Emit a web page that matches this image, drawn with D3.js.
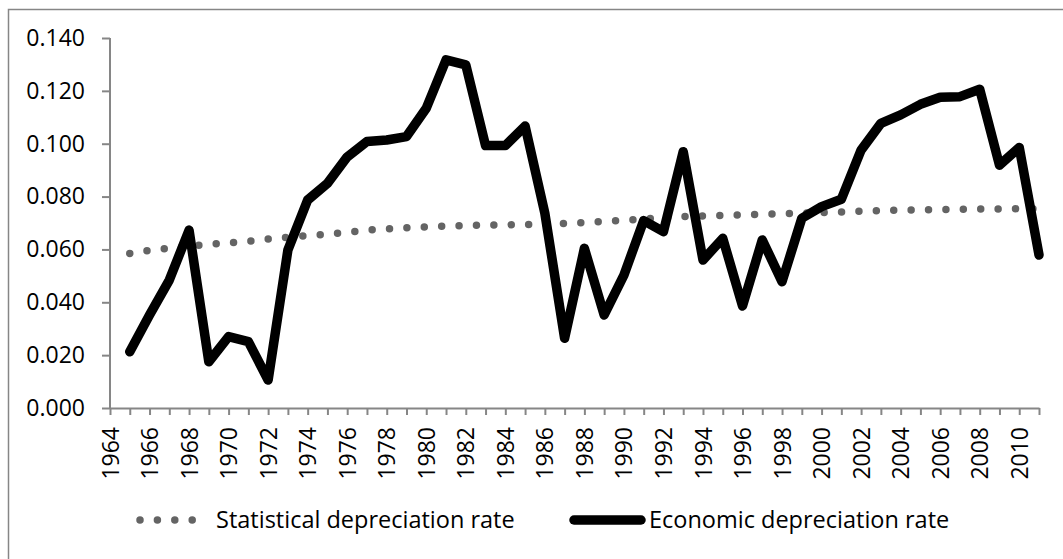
<!DOCTYPE html>
<html>
<head>
<meta charset="utf-8">
<script src="https://cdn.jsdelivr.net/npm/d3@7/dist/d3.min.js"></script>
<style>
body { margin: 0; background: #fff; }
text { font-family: 'Open Sans', sans-serif; fill: #000; }
</style>
</head>
<body>
<svg id="chart" width="1063" height="559"></svg>
<script>
const years = [1965, 1966, 1967, 1968, 1969, 1970, 1971, 1972, 1973, 1974,
               1975, 1976, 1977, 1978, 1979, 1980, 1981, 1982, 1983, 1984,
               1985, 1986, 1987, 1988, 1989, 1990, 1991, 1992, 1993, 1994,
               1995, 1996, 1997, 1998, 1999, 2000, 2001, 2002, 2003, 2004,
               2005, 2006, 2007, 2008, 2009, 2010, 2011]
const statistical = [0.0585, 0.0596, 0.0605, 0.0612, 0.0620, 0.0625, 0.0631, 0.0639, 0.0646, 0.0652,
                     0.0657, 0.0665, 0.0673, 0.0678, 0.0682, 0.0685, 0.0688, 0.0690, 0.0692, 0.0693,
                     0.0694, 0.0695, 0.0698, 0.0702, 0.0706, 0.0710, 0.0715, 0.0720, 0.0724, 0.0727,
                     0.0729, 0.0731, 0.0733, 0.0735, 0.0737, 0.0739, 0.0742, 0.0745, 0.0747, 0.0749,
                     0.0750, 0.0751, 0.0752, 0.0753, 0.0753, 0.0754, 0.0754]
const economic = [0.0213, 0.0352, 0.0484, 0.0673, 0.0175, 0.0270, 0.0251, 0.0106, 0.0598, 0.0787,
                  0.0850, 0.0950, 0.1008, 0.1014, 0.1027, 0.1134, 0.1317, 0.1298, 0.0993, 0.0993,
                  0.1067, 0.0737, 0.0264, 0.0604, 0.0352, 0.0503, 0.0709, 0.0667, 0.0970, 0.0560,
                  0.0642, 0.0386, 0.0636, 0.0478, 0.0718, 0.0762, 0.0790, 0.0976, 0.1077, 0.1109,
                  0.1149, 0.1176, 0.1178, 0.1206, 0.0919, 0.0986, 0.0579]
const tickYears = [1964, 1966, 1968, 1970, 1972, 1974, 1976, 1978, 1980, 1982,
                   1984, 1986, 1988, 1990, 1992, 1994, 1996, 1998, 2000, 2002,
                   2004, 2006, 2008, 2010]
const allYears = [1964].concat(years)
const yTicks = [0, 0.02, 0.04, 0.06, 0.08, 0.1, 0.12, 0.14]
const seriesNames = ['Statistical depreciation rate', 'Economic depreciation rate']

let svg = d3.select('#chart')
let axisColor = '#868686'

//outer frame
svg.append('rect')
    .attr('x', 8.5)
    .attr('y', 9.5)
    .attr('width', 1060)
    .attr('height', 560)
    .style('fill', 'none')
    .style('stroke', axisColor)
    .style('stroke-width', 1.5)

let xScale = d3.scaleLinear()
    .domain([1964, 2011])
    .range([110, 1039])
let yScale = d3.scaleLinear()
    .domain([0, 0.14])
    .range([408, 38])

//y axis
let yAxis = d3.axisLeft(yScale)
    .tickValues(yTicks)
    .tickFormat(d3.format('.3f'))
    .tickSize(8)
    .tickPadding(17)
let gy = svg.append('g')
    .attr('transform', `translate(${110}, 0)`)
    .call(yAxis)
gy.select('.domain').remove()
gy.append('line')
    .attr('x1', 0).attr('x2', 0)
    .attr('y1', yScale(0.14)).attr('y2', yScale(0))
    .style('stroke', axisColor).style('stroke-width', 2)
gy.selectAll('.tick line').style('stroke', axisColor).style('stroke-width', 2)
gy.selectAll('.tick text')
    .style('font-size', '23px')
    .style('font-family', "'Open Sans', sans-serif")
    .style('fill', '#000')

//x axis
let xAxis = d3.axisBottom(xScale)
    .tickValues(allYears)
    .tickFormat(d => tickYears.includes(d) ? d : '')
    .tickSize(7)
    .tickSizeOuter(0)
let gx = svg.append('g')
    .attr('transform', `translate(0, ${408})`)
    .call(xAxis)
gx.select('.domain').style('stroke', axisColor).style('stroke-width', 2)
gx.selectAll('.tick line').style('stroke', axisColor).style('stroke-width', 2)
gx.selectAll('.tick text')
    .attr('transform', 'rotate(-90)')
    .attr('x', -19)
    .attr('y', 0)
    .attr('dy', '0.35em')
    .attr('text-anchor', 'end')
    .style('font-size', '23px')
    .style('font-family', "'Open Sans', sans-serif")
    .style('fill', '#000')

let line = d3.line()
    .x((d, i) => xScale(years[i]))
    .y(d => yScale(d))

//statistical rate, dotted grey
svg.append('path')
    .datum(statistical)
    .attr('d', line)
    .style('fill', 'none')
    .style('stroke', '#646464')
    .style('stroke-width', 7.5)
    .style('stroke-linecap', 'round')
    .style('stroke-dasharray', '0 17.4')

//economic rate, heavy black
svg.append('path')
    .datum(economic)
    .attr('d', line)
    .style('fill', 'none')
    .style('stroke', '#000')
    .style('stroke-width', 9.5)
    .style('stroke-linejoin', 'round')
    .style('stroke-linecap', 'round')

//legend
let legendY = 520
svg.append('line')
    .attr('x1', 140).attr('x2', 193)
    .attr('y1', legendY).attr('y2', legendY)
    .style('stroke', '#646464')
    .style('stroke-width', 7.5)
    .style('stroke-linecap', 'round')
    .style('stroke-dasharray', '0 17.4')
svg.append('line')
    .attr('x1', 574).attr('x2', 641)
    .attr('y1', legendY).attr('y2', legendY)
    .style('stroke', '#000')
    .style('stroke-width', 9.5)
    .style('stroke-linecap', 'round')
svg.append('text')
    .attr('x', 216)
    .attr('y', legendY)
    .attr('dy', '0.35em')
    .text(seriesNames[0])
    .style('font-size', '23.5px')
svg.append('text')
    .attr('x', 649)
    .attr('y', legendY)
    .attr('dy', '0.35em')
    .text(seriesNames[1])
    .style('font-size', '23.5px')
</script>
</body>
</html>
